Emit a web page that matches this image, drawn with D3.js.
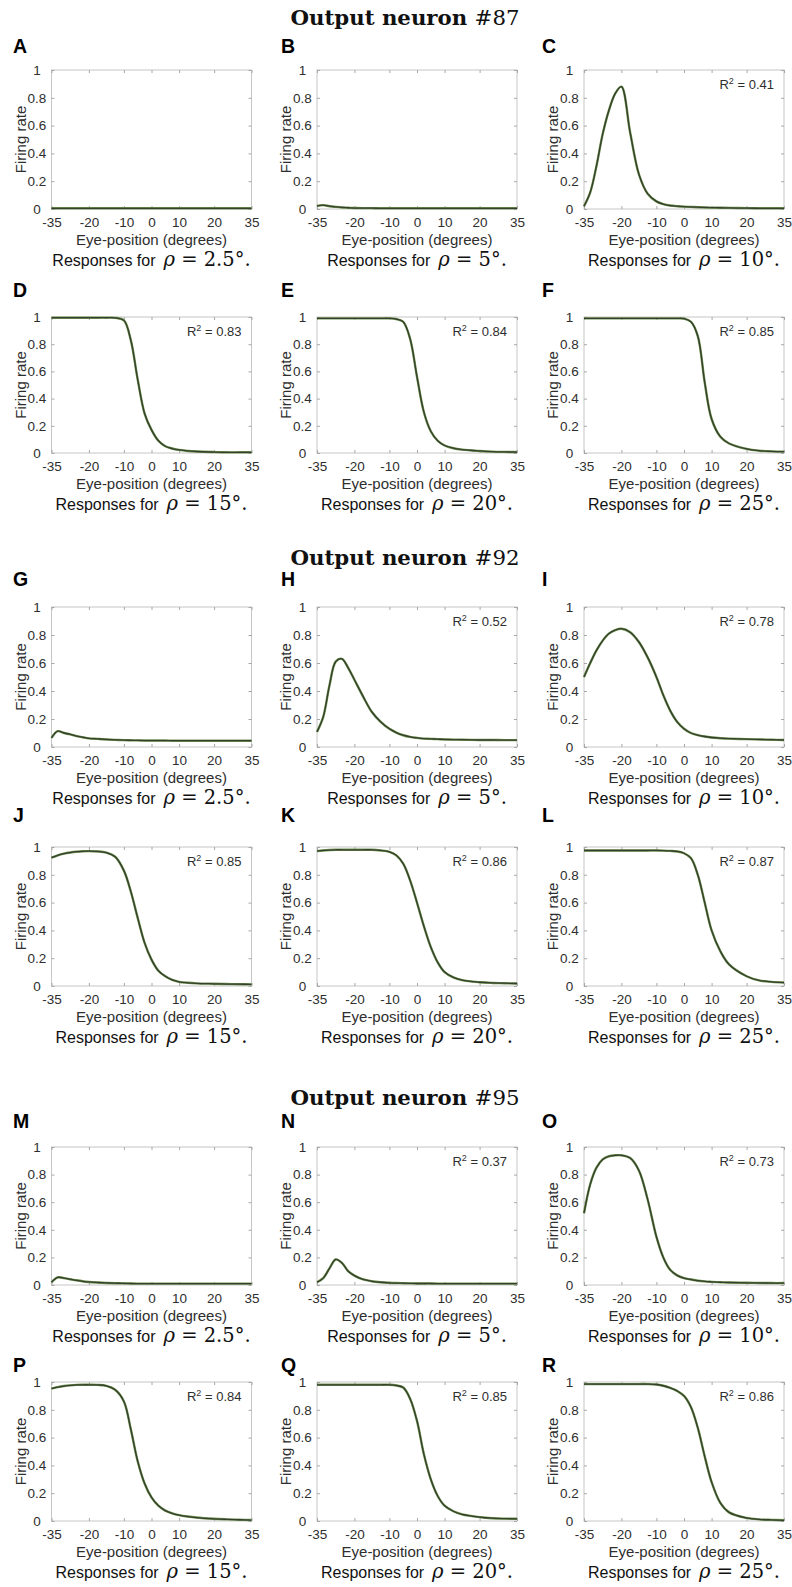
<!DOCTYPE html>
<html>
<head>
<meta charset="utf-8">
<script src="https://cdn.jsdelivr.net/npm/d3@7"></script>
<style>
  body { margin: 0; background: #fff; }
  svg { display: block; }
</style>
</head>
<body>
<svg id="fig" width="792" height="1587"></svg>
<script>
// Eye positions (degrees) at which each response curve is sampled
const eyePos = [-35, -32.5, -30, -27.5, -25, -22.5, -20, -17.5, -15, -12.5, -10, -7.5, -5, -2.5, 0, 2.5, 5, 7.5, 10, 12.5, 15, 20, 25, 30, 35];

// Output neuron #87
const n87_rho2_5 = [0.005, 0.005, 0.005, 0.005, 0.005, 0.005, 0.005, 0.005, 0.005, 0.005, 0.005, 0.005, 0.005, 0.005, 0.005, 0.005, 0.005, 0.005, 0.005, 0.005, 0.005, 0.005, 0.005, 0.005, 0.005];
const n87_rho5   = [0.022, 0.028, 0.02, 0.015, 0.011, 0.009, 0.007, 0.006, 0.006, 0.005, 0.005, 0.005, 0.005, 0.005, 0.005, 0.005, 0.005, 0.005, 0.005, 0.005, 0.005, 0.005, 0.005, 0.005, 0.005];
const n87_rho10  = [0.02, 0.12, 0.31, 0.54, 0.71, 0.83, 0.88, 0.55, 0.25, 0.11, 0.055, 0.035, 0.025, 0.02, 0.017, 0.015, 0.013, 0.011, 0.01, 0.009, 0.008, 0.006, 0.005, 0.005, 0.005];
const n87_rho15  = [0.995, 0.995, 0.995, 0.995, 0.995, 0.995, 0.995, 0.995, 0.995, 0.994, 0.975, 0.83, 0.54, 0.29, 0.17, 0.09, 0.05, 0.033, 0.023, 0.015, 0.011, 0.007, 0.005, 0.005, 0.005];
const n87_rho20  = [0.99, 0.99, 0.99, 0.99, 0.99, 0.99, 0.99, 0.99, 0.99, 0.99, 0.99, 0.985, 0.965, 0.84, 0.56, 0.3, 0.16, 0.09, 0.055, 0.035, 0.025, 0.015, 0.01, 0.008, 0.007];
const n87_rho25  = [0.99, 0.99, 0.99, 0.99, 0.99, 0.99, 0.99, 0.99, 0.99, 0.99, 0.99, 0.99, 0.99, 0.99, 0.988, 0.965, 0.86, 0.52, 0.25, 0.12, 0.07, 0.03, 0.017, 0.012, 0.01];

// Output neuron #92
const n92_rho2_5 = [0.065, 0.113, 0.1, 0.09, 0.078, 0.07, 0.062, 0.058, 0.054, 0.051, 0.049, 0.048, 0.047, 0.046, 0.046, 0.046, 0.046, 0.045, 0.045, 0.045, 0.045, 0.045, 0.045, 0.045, 0.045];
const n92_rho5   = [0.108, 0.215, 0.44, 0.61, 0.63, 0.565, 0.48, 0.36, 0.25, 0.18, 0.13, 0.103, 0.084, 0.072, 0.065, 0.06, 0.058, 0.056, 0.054, 0.053, 0.052, 0.05, 0.05, 0.049, 0.049];
const n92_rho10  = [0.5, 0.6, 0.69, 0.76, 0.81, 0.835, 0.845, 0.82, 0.75, 0.64, 0.5, 0.37, 0.26, 0.18, 0.13, 0.1, 0.085, 0.075, 0.068, 0.063, 0.06, 0.056, 0.054, 0.052, 0.05];
const n92_rho15  = [0.923, 0.94, 0.952, 0.96, 0.966, 0.969, 0.97, 0.968, 0.96, 0.93, 0.83, 0.68, 0.49, 0.31, 0.19, 0.11, 0.07, 0.044, 0.03, 0.023, 0.019, 0.016, 0.014, 0.013, 0.012];
const n92_rho20  = [0.97, 0.975, 0.978, 0.98, 0.98, 0.98, 0.98, 0.98, 0.98, 0.975, 0.965, 0.94, 0.88, 0.76, 0.6, 0.43, 0.28, 0.17, 0.1, 0.062, 0.042, 0.027, 0.022, 0.02, 0.018];
const n92_rho25  = [0.975, 0.975, 0.975, 0.975, 0.975, 0.975, 0.975, 0.975, 0.975, 0.975, 0.975, 0.974, 0.972, 0.968, 0.955, 0.92, 0.8, 0.6, 0.4, 0.25, 0.155, 0.07, 0.04, 0.03, 0.025];

// Output neuron #95
const n95_rho2_5 = [0.02, 0.055, 0.05, 0.042, 0.034, 0.027, 0.022, 0.018, 0.015, 0.013, 0.012, 0.011, 0.01, 0.01, 0.01, 0.01, 0.01, 0.01, 0.01, 0.01, 0.01, 0.01, 0.01, 0.01, 0.01];
const n95_rho5   = [0.02, 0.05, 0.12, 0.185, 0.16, 0.1, 0.068, 0.04, 0.027, 0.02, 0.016, 0.014, 0.013, 0.012, 0.011, 0.011, 0.011, 0.01, 0.01, 0.01, 0.01, 0.01, 0.01, 0.01, 0.01];
const n95_rho10  = [0.52, 0.73, 0.85, 0.91, 0.933, 0.94, 0.94, 0.92, 0.83, 0.62, 0.35, 0.2, 0.11, 0.07, 0.05, 0.04, 0.031, 0.026, 0.023, 0.02, 0.018, 0.016, 0.015, 0.014, 0.014];
const n95_rho15  = [0.952, 0.963, 0.971, 0.976, 0.979, 0.98, 0.98, 0.979, 0.972, 0.944, 0.86, 0.66, 0.43, 0.27, 0.17, 0.11, 0.075, 0.055, 0.042, 0.032, 0.025, 0.016, 0.012, 0.009, 0.007];
const n95_rho20  = [0.98, 0.98, 0.98, 0.98, 0.98, 0.98, 0.98, 0.98, 0.98, 0.98, 0.98, 0.975, 0.96, 0.88, 0.72, 0.48, 0.3, 0.18, 0.11, 0.07, 0.048, 0.028, 0.02, 0.017, 0.016];
const n95_rho25  = [0.985, 0.985, 0.985, 0.985, 0.985, 0.985, 0.985, 0.985, 0.985, 0.985, 0.982, 0.973, 0.958, 0.936, 0.9, 0.82, 0.67, 0.465, 0.28, 0.13, 0.062, 0.022, 0.012, 0.008, 0.005];

const neuronTitles = ["#87", "#92", "#95"];
const rhoLabels = ["2.5", "5", "10", "15", "20", "25"];
const panelLetters = ["A","B","C","D","E","F","G","H","I","J","K","L","M","N","O","P","Q","R"];
const r2Labels = [null, null, "0.41", "0.83", "0.84", "0.85",
                  null, "0.52", "0.78", "0.85", "0.86", "0.87",
                  null, "0.37", "0.73", "0.84", "0.85", "0.86"];
const seriesList = [n87_rho2_5, n87_rho5, n87_rho10, n87_rho15, n87_rho20, n87_rho25,
                    n92_rho2_5, n92_rho5, n92_rho10, n92_rho15, n92_rho20, n92_rho25,
                    n95_rho2_5, n95_rho5, n95_rho10, n95_rho15, n95_rho20, n95_rho25];
const xTickValues = [-35, -20, -10, 0, 10, 20, 35];
const yTickValues = [0, 0.2, 0.4, 0.6, 0.8, 1];

// ---- layout ----
const W = 200;
const colLeft = [51.5, 317, 584];
const rowTop = [70, 317, 607, 847, 1147, 1382];
const rowBottom = [209, 453, 747, 986, 1285, 1521];
const letterBase = [53, 297, 586, 822, 1128, 1372];
const letterX = [13, 281, 542];
const titleBase = [25, 565, 1105];
// where each labelled tick sits along the axis (fraction of width)
const xTickFrac = [0, 0.187, 0.362, 0.5, 0.638, 0.813, 1];

const SANS = "'Liberation Sans', Arial, Helvetica, sans-serif";
const SERIF = "'DejaVu Serif', serif";

const svg = d3.select("#fig");
svg.append("rect").attr("width", 792).attr("height", 1587).attr("fill", "#fff");

const x = d3.scaleLinear().domain(xTickValues).range(xTickFrac.map(f => f * W));

// group titles
neuronTitles.forEach((t, i) => {
  const tx = svg.append("text")
    .attr("x", 405).attr("y", titleBase[i])
    .attr("text-anchor", "middle")
    .attr("font-family", SERIF)
    .attr("font-size", 19.5)
    .attr("fill", "#111")
    .attr("textLength", 229)
    .attr("lengthAdjust", "spacingAndGlyphs");
  tx.append("tspan").attr("font-weight", "bold").text("Output neuron ");
  tx.append("tspan").text(t);
});

seriesList.forEach((vals, idx) => {
  const row = Math.floor(idx / 3);
  const col = idx % 3;
  const left = colLeft[col];
  const top = rowTop[row];
  const H = rowBottom[row] - rowTop[row];
  const y = d3.scaleLinear().domain([0, 1]).range([H, 0]);

  // panel letter
  svg.append("text")
    .attr("x", letterX[col]).attr("y", letterBase[row])
    .attr("font-family", SANS).attr("font-weight", "bold")
    .attr("font-size", 19.5).attr("fill", "#000")
    .text(panelLetters[idx]);

  const g = svg.append("g").attr("transform", `translate(${left},${top})`);

  // axes box
  g.append("rect").attr("width", W).attr("height", H)
    .attr("fill", "#fff").attr("stroke", "#c6c6c6").attr("stroke-width", 1);

  const styleAxis = sel => {
    sel.select(".domain").remove();
    sel.selectAll(".tick line").attr("stroke", "#a8a8a8").attr("stroke-width", 1);
    sel.selectAll(".tick text").attr("fill", "#2e2e2e").attr("font-family", SANS).attr("font-size", 13.5);
  };

  g.append("g").attr("transform", `translate(0,${H})`)
    .call(d3.axisBottom(x).tickValues(xTickValues).tickFormat(d3.format("d"))
      .tickSizeInner(-3).tickSizeOuter(0).tickPadding(8.5))
    .call(styleAxis)
    .call(s => s.selectAll(".tick text").text(d => d < 0 ? "-" + Math.abs(d) : d));

  g.append("g")
    .call(d3.axisTop(x).tickValues(xTickValues).tickFormat("")
      .tickSizeInner(-3).tickSizeOuter(0))
    .call(styleAxis);

  g.append("g")
    .call(d3.axisLeft(y).tickValues(yTickValues).tickFormat(d => d === 0 || d === 1 ? d3.format("d")(d) : d3.format(".1f")(d))
      .tickSizeInner(-3).tickSizeOuter(0))
    .call(styleAxis)
    .call(s => s.selectAll(".tick text").attr("text-anchor", "middle").attr("x", -14.5));

  g.append("g").attr("transform", `translate(${W},0)`)
    .call(d3.axisRight(y).tickValues(yTickValues).tickFormat("")
      .tickSizeInner(-3).tickSizeOuter(0))
    .call(styleAxis);

  // axis titles
  g.append("text")
    .attr("transform", `translate(-26,${H / 2}) rotate(-90)`)
    .attr("text-anchor", "middle")
    .attr("font-family", SANS).attr("font-size", 15).attr("fill", "#2e2e2e")
    .text("Firing rate");
  g.append("text")
    .attr("x", W / 2).attr("y", H + 36)
    .attr("text-anchor", "middle")
    .attr("font-family", SANS).attr("font-size", 15).attr("fill", "#2e2e2e")
    .text("Eye-position (degrees)");

  // response curve: green trace under a dark trace
  const pts = eyePos.map((e, i) => ({ x: e, y: vals[i] }));
  const line = d3.line().x(d => x(d.x)).y(d => y(d.y)).curve(d3.curveCatmullRom.alpha(0.5));
  g.append("path").datum(pts).attr("d", line)
    .attr("fill", "none").attr("stroke", "#6f9150").attr("stroke-width", 2.4)
    .attr("stroke-linejoin", "round");
  g.append("path").datum(pts).attr("d", line)
    .attr("fill", "none").attr("stroke", "#34402c").attr("stroke-width", 1.3)
    .attr("stroke-linejoin", "round");

  // goodness of fit
  if (r2Labels[idx]) {
    const t = g.append("text")
      .attr("x", W - 10).attr("y", 19)
      .attr("text-anchor", "end")
      .attr("font-family", SANS).attr("font-size", 13).attr("fill", "#2e2e2e");
    t.append("tspan").text("R");
    t.append("tspan").attr("font-size", 9).attr("dy", -5).text("2");
    t.append("tspan").attr("dy", 5).text(" = " + r2Labels[idx]);
  }

  // caption under the panel
  const cap = g.append("g").attr("transform", `translate(${W / 2},${H + 57})`);
  const t1 = cap.append("text")
    .attr("font-family", SANS).attr("font-size", 16).attr("fill", "#111")
    .text("Responses for");
  const t2 = cap.append("text")
    .attr("font-family", SERIF).attr("font-size", 19.5).attr("fill", "#111");
  t2.append("tspan").attr("font-style", "italic").text("\u03C1");
  t2.append("tspan").text(" = " + rhoLabels[idx % 6] + "\u00B0.");
  const w1 = t1.node().getComputedTextLength();
  const w2 = t2.node().getComputedTextLength();
  const gap = 8;
  const total = w1 + gap + w2;
  t1.attr("x", -total / 2);
  t2.attr("x", -total / 2 + w1 + gap);
});
</script>
</body>
</html>
